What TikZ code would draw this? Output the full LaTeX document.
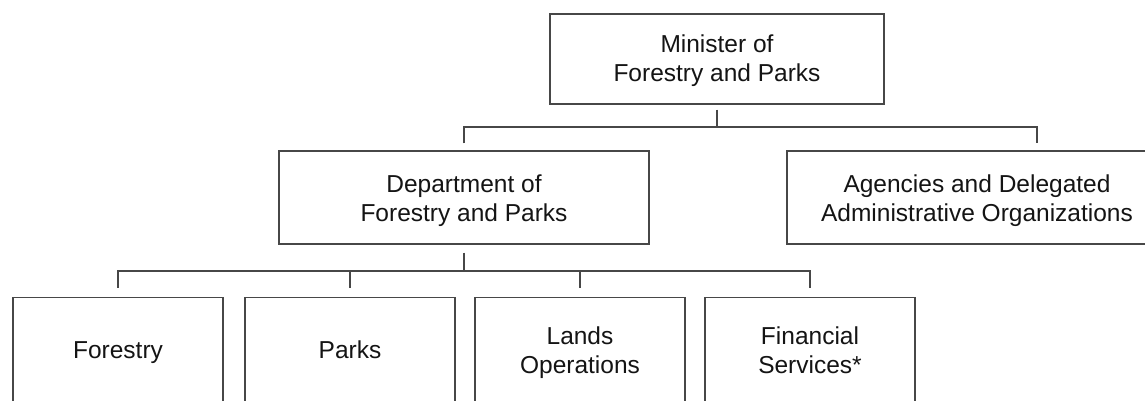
\documentclass[tikz,border=0pt]{standalone}
\usepackage{fontspec}
\setmainfont{Liberation Sans}
\begin{document}
\begin{tikzpicture}[x=1pt,y=-1pt,
  box/.style={draw=black!72, line width=1.3pt, rectangle, inner sep=0pt, fill=none},
  txt/.style={align=center, inner sep=0pt, text=black!92, font=\fontsize{24.5pt}{29pt}\selectfont},
  conn/.style={draw=black!72, line width=1.2pt}]
\useasboundingbox (0,0) rectangle (1145,401);
\clip (0,0) rectangle (1145,401);
% boxes
\node[box, minimum width=334pt, minimum height=90pt,
  label={[txt,yshift=-2pt]center:Minister of\\Forestry and Parks}] (min) at (717,59) {};
\node[box, minimum width=370pt, minimum height=93pt,
  label={[txt,yshift=-3pt]center:Department of\\Forestry and Parks}] (dept) at (464,197.5) {};
\node[box, minimum width=380pt, minimum height=93pt,
  label={[txt,yshift=-3pt]center:Agencies and Delegated\\Administrative Organizations}] (agen) at (977,197.5) {};
\node[box, minimum width=210pt, minimum height=108pt,
  label={[txt,yshift=-1pt]center:Forestry}] (fore) at (118,351.5) {};
\node[box, minimum width=210pt, minimum height=108pt,
  label={[txt,yshift=1.5pt]center:Parks}] (parks) at (350,351.5) {};
\node[box, minimum width=210pt, minimum height=108pt,
  label={[txt,yshift=-1pt]center:Lands\\Operations}] (lands) at (580,351.5) {};
\node[box, minimum width=210pt, minimum height=108pt,
  label={[txt,yshift=1pt]center:Financial\\Services*}] (fin) at (810,351.5) {};
% junctions
\coordinate (j1) at (717,127);
\coordinate (j2) at (464,271);
% connectors from minister
\draw[conn] ([yshift=-5pt]min.south) -- (j1);
\draw[conn] ([yshift=7pt]dept.north) |- (j1) -| ([yshift=7pt,xshift=60pt]agen.north);
% connectors from department
\draw[conn] ([yshift=-8pt]dept.south) -- (j2);
\draw[conn] ([yshift=9pt]fore.north) |- (j2) -| ([yshift=9pt]fin.north);
\draw[conn] ([yshift=9pt]parks.north) -- (parks.north |- j2);
\draw[conn] ([yshift=9pt]lands.north) -- (lands.north |- j2);
\end{tikzpicture}
\end{document}
